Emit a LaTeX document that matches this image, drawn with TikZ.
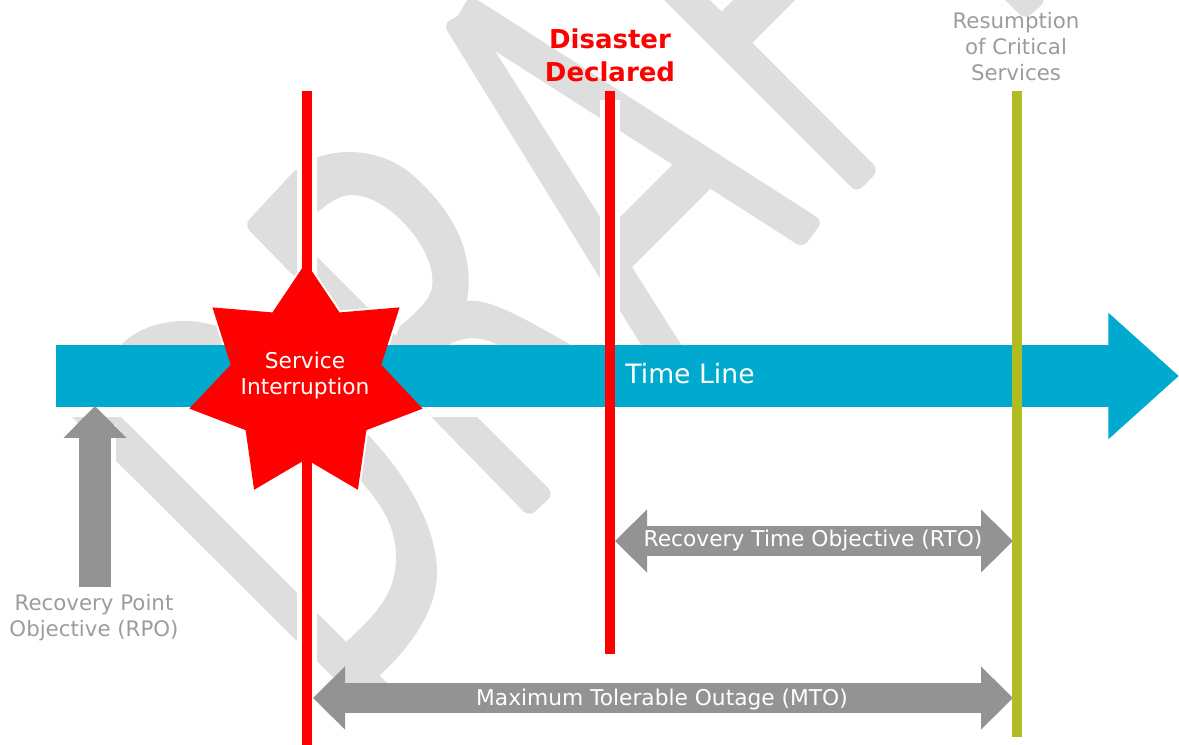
\documentclass[tikz,border=0pt]{standalone}
\usepackage{fontspec}
\setmainfont{DejaVu Sans}
\usetikzlibrary{arrows.meta, shapes.geometric}
\definecolor{markgray}{HTML}{DEDEDE}
\definecolor{linecyan}{HTML}{00A9CE}
\definecolor{spangray}{HTML}{939393}
\definecolor{textgray}{HTML}{9C9C9C}
\definecolor{endgreen}{HTML}{B0BC22}

\begin{document}
\begin{tikzpicture}[x=0.75pt, y=-0.75pt,
  markbar/.style = {fill=markgray, rounded corners=6pt},
  markcurve/.style = {fill=markgray},
  halo/.style = {draw=white, line width=15pt},
  redline/.style = {draw=red, line width=7.5pt},
  endline/.style = {draw=endgreen, line width=8.2pt},
  timearrow/.style = {draw=linecyan, line width=46.5pt, -{Triangle[length=53pt, width=91.5pt, fill=linecyan]}},
  uparrow/.style = {draw=spangray, line width=24.5pt, -{Triangle[length=24pt, width=46pt, fill=spangray]}},
  spanarrow/.style = {draw=spangray, line width=22.5pt, {Triangle[length=24pt, width=46pt, fill=spangray]}-{Triangle[length=24pt, width=46pt, fill=spangray]}},
  starbox/.style = {star, star points=7, star point ratio=1.55, minimum size=179.5pt, inner sep=0pt, fill=red},
  spanlabel/.style = {text=white, font=\fontsize{16.3}{19}\selectfont},
  sidelabel/.style = {text=textgray, align=center, font=\fontsize{16}{19.5}\selectfont},
  mainlabel/.style = {text=red, align=center, font=\bfseries\fontsize{19.5}{25}\selectfont}
]
\useasboundingbox (0,0) rectangle (1179,745);

% watermark
\begin{scope}
\clip (0,0) rectangle (1179,745);
\fill[markbar] (453,24) -- (470,-5) -- (823,221) -- (803,248) -- cycle;
\fill[markbar] (443,24) -- (469,10) -- (708,387) -- (677,403) -- cycle;
\fill[markbar] (690,147) -- (722,177) -- (620,279) -- (590,247) -- cycle;
\fill[markbar] (644,-20) -- (857,193) -- (879,170) -- (690,-20) -- cycle;
\fill[markbar] (805,-10) -- (745,50) -- (715,18) -- (743,-10) -- cycle;
\fill[markbar] (985,-20) -- (1025,20) -- (1047,0) -- (1027,-20) -- cycle;
\fill[markbar] (298,167) -- (244,225) -- (529,517) -- (554,494) -- (295,235) -- (318,212) -- (325,160) -- cycle;
\fill[markcurve] (298,167) .. controls (330,145) and (385,145) .. (420,182) .. controls (455,215) and (475,255) .. (467,301) -- (445,350) -- (390,350) -- (400,326) .. controls (425,305) and (435,295) .. (432,275) .. controls (428,240) and (385,195) .. (352,195) .. controls (340,195) and (328,203) .. (318,212) -- cycle;
\fill[markcurve] (445,325) -- (467,301) .. controls (490,298) and (525,318) .. (600,362) -- (560,380) -- (496,344) .. controls (480,336) and (462,336) .. (445,347) -- cycle;
\fill[markbar] (60,405) -- (84,380) -- (400,696) -- (360,704) -- cycle;
\fill[markcurve] (100,375) -- (121,345) .. controls (135,330) and (160,320) .. (190,321) .. controls (250,325) and (320,385) .. (371,438) .. controls (410,480) and (437,530) .. (437,573) .. controls (437,610) and (410,650) .. (371,683) -- (346,642) .. controls (375,615) and (396,595) .. (396,557) .. controls (396,530) and (385,510) .. (366,487) .. controls (320,430) and (240,375) .. (170,370) -- cycle;
\end{scope}

\coordinate (line_a_top) at (307,91);
\coordinate (line_a_bot) at (307,745);
\coordinate (line_b_top) at (609.5,91);
\coordinate (line_b_halo) at (609.5,100);
\coordinate (line_b_bot) at (609.5,654);
\coordinate (line_c_top) at (1017,91);
\coordinate (line_c_bot) at (1017,737);
\coordinate (time_start) at (56,376);
\coordinate (time_end) at (1179,376);
\coordinate (rpo_base) at (95,587);
\coordinate (rpo_tip) at (95,406);
\coordinate (rto_left) at (615,541);
\coordinate (rto_right) at (1013,541);
\coordinate (mto_left) at (313,698);
\coordinate (mto_right) at (1013,698);

% white gaps in the watermark
\fill[white] (56,345) rectangle (1108,417);
\draw[draw=white, line width=32pt] (rpo_base) -- (95,425);
\draw[halo] (line_a_top) -- (line_a_bot);
\draw[halo] (line_b_halo) -- (line_b_bot);
\node[starbox, fill=white, draw=white, line width=3pt] (service_halo) at (306,382) {};

\draw[timearrow] (time_start) -- (time_end);
\draw[uparrow] (rpo_base) -- (rpo_tip);
\draw[spanarrow] (rto_left) -- (rto_right);
\draw[spanarrow] (mto_left) -- (mto_right);
\draw[redline] (line_a_top) -- (line_a_bot);
\draw[redline] (line_b_top) -- (line_b_bot);
\draw[endline] (line_c_top) -- (line_c_bot);
\node[starbox] (service) at (306,382) {};

\node[text=white, align=center, font=\fontsize{16.3}{19.5}\selectfont] (service_label) at (305,376) {Service\\Interruption};
\node[text=white, font=\fontsize{20}{24}\selectfont] (time_label) at (690,374) {Time Line};
\node[spanlabel] (rto_label) at (813,541) {Recovery Time Objective (RTO)};
\node[spanlabel] (mto_label) at (662,700) {Maximum Tolerable Outage (MTO)};
\node[sidelabel] (rpo_label) at (94,618) {Recovery Point\\Objective (RPO)};
\node[sidelabel] (end_label) at (1016,47) {Resumption\\of Critical\\Services};
\node[mainlabel] (disaster_label) at (610,55) {Disaster\\Declared};
\end{tikzpicture}
\end{document}
